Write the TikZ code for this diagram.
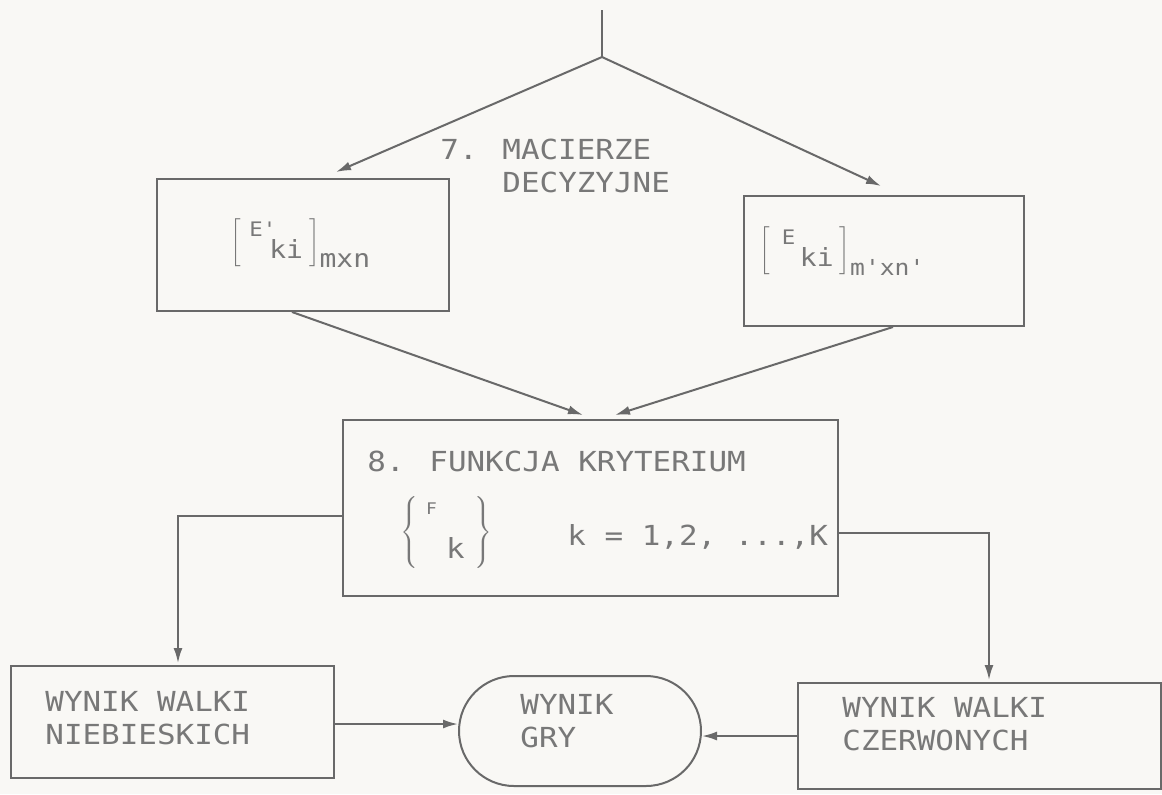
\documentclass[tikz,border=0pt]{standalone}
\usepackage{fontspec}
\newfontfamily\tw[FakeStretch=1.12]{DejaVu Sans Mono}
\usetikzlibrary{arrows.meta,calc}
\definecolor{lc}{RGB}{105,105,105}
\definecolor{tc}{RGB}{120,120,120}
\definecolor{bg}{RGB}{249,248,245}
\newcommand\twn{\tw\fontsize{13.8}{16.5}\selectfont}
\newcommand\tws[1]{\mbox{\tw\fontsize{12.5}{13}\selectfont #1}}
\newcommand\twm[1]{\mbox{\tw\fontsize{11}{12}\selectfont #1}}
\newcommand\twx[1]{\mbox{\tw\fontsize{10}{11}\selectfont #1}}
\newcommand\twt[1]{\mbox{\tw\fontsize{8}{9}\selectfont #1}}
\newcommand\twk[1]{\mbox{\tw\fontsize{13.8}{16.5}\selectfont #1}}
\begin{document}
\begin{tikzpicture}[x=1pt,y=-1pt,
  box/.style={draw=lc,line width=1pt,anchor=north west,inner sep=0pt},
  txt/.style={text=tc,font=\twn,inner sep=0pt,align=left,anchor=west},
  mtx/.style={text=tc,font=\fontsize{11}{12}\selectfont,inner sep=0pt},
  conn/.style={draw=lc,line width=1pt},
  arr/.style={conn,-{Latex[length=7.5pt,width=4.5pt]}}]
\fill[bg] (0,0) rectangle (581,397);
\useasboundingbox (0,0) rectangle (581,397);

% boxes
\node[box,minimum width=146pt,minimum height=66pt] (L) at (78,89) {};
\node[box,minimum width=140pt,minimum height=65pt] (R) at (371.5,97.5) {};
\node[box,minimum width=247.5pt,minimum height=88pt] (C) at (171,209.5) {};
\node[box,minimum width=161.5pt,minimum height=56pt] (BL) at (5,332.5) {};
\node[box,minimum width=121pt,minimum height=55pt,rounded corners=27.5pt] (G) at (229,337.5) {};
\node[box,minimum width=181.5pt,minimum height=53pt] (BR) at (398.5,341) {};

% texts
\node[mtx] (LC) at ([xshift=-1pt,yshift=1pt]L.center)
  {$\left[\hspace{4pt}\begin{array}{@{}l@{}}\twx{E'}\\[-2pt]\hspace{10pt}\tws{ki}\end{array}\hspace{3pt}\right]_{\tws{mxn}}$};
\node[txt] (M) at (220,83) {7. MACIERZE\\\phantom{7. }DECYZYJNE};
\node[mtx,anchor=west] (RC) at ([xshift=8pt,yshift=5pt]R.west)
  {$\left[\hspace{6pt}\begin{array}{@{}l@{}}\twx{E}\\[-2pt]\hspace{9pt}\tws{ki}\end{array}\hspace{3pt}\right]_{\twm{m'xn'}}$};
\node[txt] (C1) at (183.5,230.5) {8. FUNKCJA KRYTERIUM};
\node[mtx,anchor=west] (C2) at (200,266)
  {$\left\{\hspace{4pt}\begin{array}{@{}l@{}}\twt{F}\\[8pt]\hspace{10pt}\twk{k}\end{array}\hspace{5pt}\right\}$};
\node[txt] (C3) at (283.5,268.5) {k = 1,2, ...,K};
\node[txt] (BLT) at (22.5,359) {WYNIK WALKI\\NIEBIESKICH};
\node[txt] (GT) at (260,360.5) {WYNIK\\GRY};
\node[txt] (BRT) at (421,362) {WYNIK WALKI\\CZERWONYCH};

% connectors
\coordinate (T) at (301,5);
\coordinate (J) at (301,28.5);
\draw[conn] (T) -- (J);
\draw[arr] (J) -- ([xshift=16.5pt,yshift=3pt]L.north);
\draw[arr] (J) -- ([xshift=-1.5pt,yshift=4.5pt]R.north);
\draw[arr] ([xshift=-5.5pt]L.south) -- ([xshift=-3.75pt,yshift=2pt]C.north);
\draw[arr] ([xshift=4.5pt]R.south) -- ([xshift=12.25pt,yshift=2pt]C.north);
\draw[arr] ([yshift=-4pt]C.west) -| ([xshift=2.75pt,yshift=1pt]BL.north);
\draw[arr] ([yshift=-12.5pt]C.east) -| ([xshift=4.75pt,yshift=1pt]BR.north);
\draw[arr] ([yshift=-1pt]BL.east) -- ([yshift=-1pt]BL.east -| G.west);
\draw[arr] (BR.west) -- (BR.west -| G.east);
\end{tikzpicture}
\end{document}
